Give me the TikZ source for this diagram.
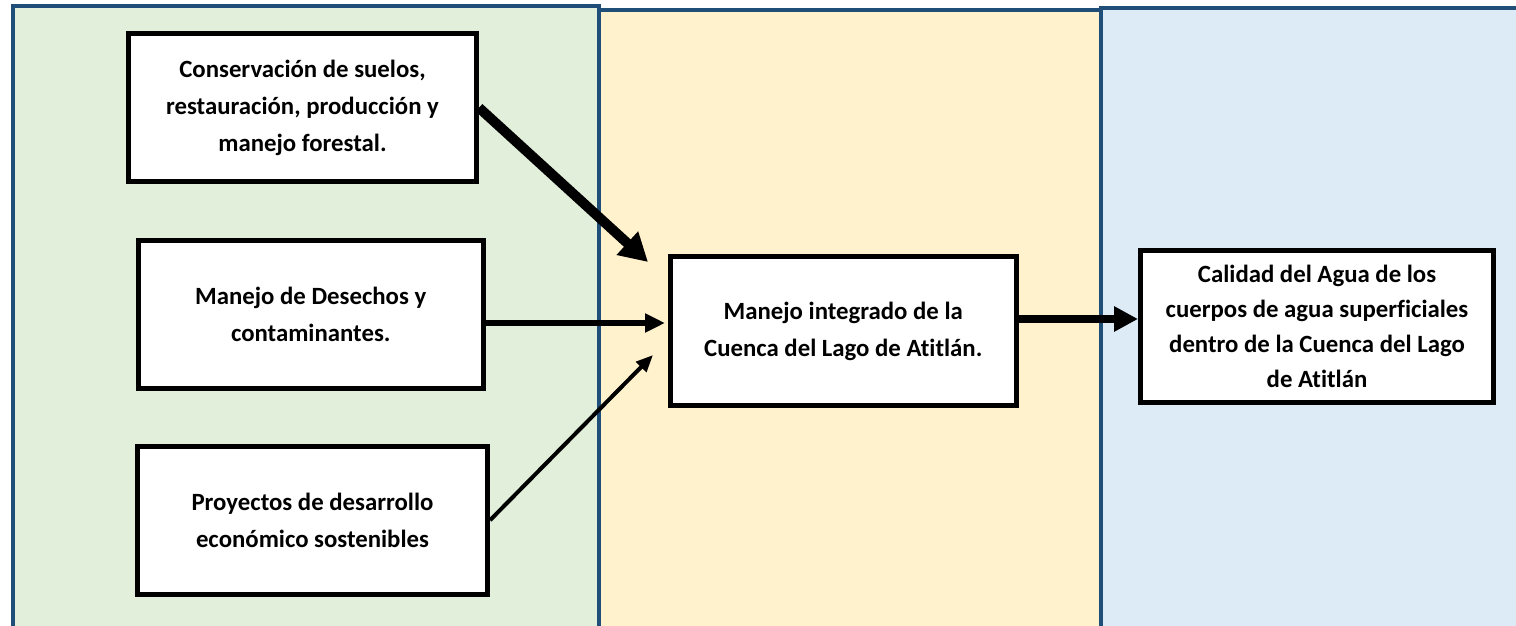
\documentclass[tikz,border=0pt]{standalone}
\usepackage{fontspec}
\setmainfont[Ligatures=NoCommon]{Carlito}
\usetikzlibrary{arrows.meta}
\definecolor{bordeazul}{HTML}{1F4E79}
\definecolor{verdeclaro}{HTML}{E2EFDA}
\definecolor{amarilloclaro}{HTML}{FFF2CC}
\definecolor{azulclaro}{HTML}{DDEBF7}
\tikzset{
    caja/.style={draw=black, line width=2.5pt, fill=white, align=center, inner sep=0pt,
        font=\bfseries\fontsize{12.4}{18.4}\selectfont},
    borde/.style={bordeazul, line width=2pt}
}
\begin{document}
\begin{tikzpicture}[x=0.5pt, y=-0.5pt]
    \useasboundingbox (0,0) rectangle (1516,626);

    % Background panels
    \fill[verdeclaro] (12.5,6.5) rectangle (598.5,626);
    \fill[amarilloclaro] (598.5,10.5) rectangle (1100.5,626);
    \fill[azulclaro] (1100.5,8.5) rectangle (1516,626);
    \draw[borde] (12.5,626) -- (12.5,6.5) -- (598.5,6.5) -- (598.5,626);
    \draw[borde] (598.5,10.5) -- (1100.5,10.5);
    \draw[borde] (1100.5,626) -- (1100.5,8.5) -- (1516,8.5);

    % Boxes
    \node[caja, minimum width=174pt, minimum height=73.75pt] (suelos) at (302.5,107.75)
        {Conservación de suelos,\\ restauración, producción y\\ manejo forestal.};
    \node[caja, minimum width=172.75pt, minimum height=74pt] (desechos) at (310.75,314)
        {Manejo de Desechos y\\ contaminantes.};
    \node[caja, minimum width=175pt, minimum height=74.25pt] (proyectos) at (312.5,520.25)
        {Proyectos de desarrollo\\ económico sostenibles};
    \node[caja, minimum width=173.25pt, minimum height=74.5pt] (cuenca) at (843.25,331)
        {Manejo integrado de la\\ Cuenca del Lago de Atitlán.};
    \node[caja, minimum width=176.5pt, minimum height=76pt,
        font=\bfseries\fontsize{12.4}{17.5}\selectfont] (calidad) at (1317,326)
        {Calidad del Agua de los\\ cuerpos de agua superficiales\\ dentro de la Cuenca del Lago\\ de Atitlán};

    % Arrow ends
    \coordinate (t1) at (648,262);
    \coordinate (t2) at (665,323);
    \coordinate (t3) at (653,355);
    \coordinate (t4) at (1138,319);

    % Arrows
    \draw[line width=5pt, -{Triangle[length=14pt, width=15pt]}] (suelos.east) -- (t1);
    \draw[line width=3pt, -{Triangle[length=10pt, width=9pt]}] (desechos.east |- t2) -- (t2);
    \draw[line width=2pt, -{Triangle[length=8.5pt, width=7pt]}] (proyectos.east) -- (t3);
    \draw[line width=4pt, -{Triangle[length=12pt, width=12pt]}] (cuenca.east |- t4) -- (t4);
\end{tikzpicture}
\end{document}
